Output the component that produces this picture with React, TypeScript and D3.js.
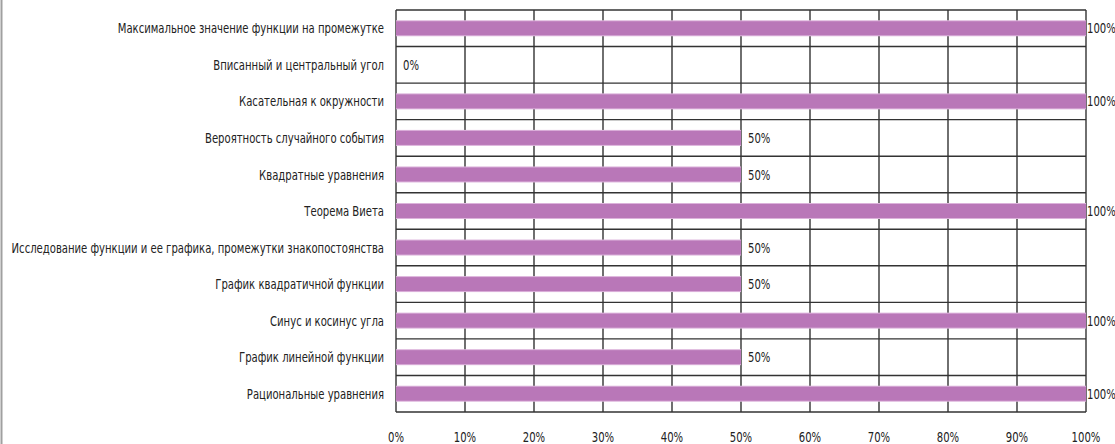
import { useEffect, useRef } from "react";
import * as d3 from "d3";

const categories = [
  "Максимальное значение функции на промежутке",
  "Вписанный и центральный угол",
  "Касательная к окружности",
  "Вероятность случайного события",
  "Квадратные уравнения",
  "Теорема Виета",
  "Исследование функции и ее графика, промежутки знакопостоянства",
  "График квадратичной функции",
  "Синус и косинус угла",
  "График линейной функции",
  "Рациональные уравнения",
];
const values = [1, 0, 1, 0.5, 0.5, 1, 0.5, 0.5, 1, 0.5, 1];
const ticks = [0, 0.1, 0.2, 0.3, 0.4, 0.5, 0.6, 0.7, 0.8, 0.9, 1];

const FONT = "'DejaVu Sans Condensed', 'DejaVu Sans', sans-serif";
const SX = 0.8; // сжатие шрифта по горизонтали

const App = () => {
  const ref = useRef<SVGSVGElement>(null);

  useEffect(() => {
    const width = 1115,
      height = 444;
    const margin = { top: 10, right: 29, bottom: 32, left: 396 };
    const svg = d3.select(ref.current);
    svg.selectAll("*").remove();

    // внешняя рамка слева
    svg
      .append("line")
      .attr("x1", 1.5)
      .attr("x2", 1.5)
      .attr("y1", 0)
      .attr("y2", height)
      .attr("stroke", "#a0a0a0")
      .attr("stroke-width", 2);

    const x = d3
      .scaleLinear()
      .domain([0, 1])
      .range([margin.left, width - margin.right]);
    const y = d3
      .scaleBand<string>()
      .domain(categories)
      .range([margin.top, height - margin.bottom])
      .padding(0);

    const barH = 14;

    const label = (
      g: d3.Selection<any, any, any, any>,
      tx: number,
      ty: number,
      txt: string,
      anchor: string
    ) => {
      g.append("g")
        .attr("transform", `translate(${tx},${ty}) scale(${SX},1)`)
        .append("text")
        .attr("dy", "0.36em")
        .attr("text-anchor", anchor)
        .attr("font-family", FONT)
        .attr("font-size", 14)
        .attr("fill", "#222")
        .text(txt);
    };

    // сетка: вертикальные линии
    svg
      .append("g")
      .selectAll("line")
      .data(ticks)
      .enter()
      .append("line")
      .attr("x1", (d) => x(d))
      .attr("x2", (d) => x(d))
      .attr("y1", margin.top)
      .attr("y2", height - margin.bottom)
      .attr("stroke", "#333")
      .attr("stroke-width", 1.4);

    // горизонтальные линии на границах категорий
    const bounds = categories.map((c) => y(c) ?? 0).concat([height - margin.bottom]);
    svg
      .append("g")
      .selectAll("line")
      .data(bounds)
      .enter()
      .append("line")
      .attr("x1", margin.left)
      .attr("x2", width - margin.right)
      .attr("y1", (d) => d)
      .attr("y2", (d) => d)
      .attr("stroke", "#333")
      .attr("stroke-width", 1.4);

    // столбцы
    const bars = svg.append("g");
    categories.forEach((c, i) => {
      const yc = (y(c) ?? 0) + y.bandwidth() / 2;
      bars
        .append("rect")
        .attr("x", x(0))
        .attr("y", yc - barH / 2 - 1)
        .attr("width", x(values[i]) - x(0))
        .attr("height", barH + 2)
        .attr("fill", "#dcb3db");
      bars
        .append("rect")
        .attr("x", x(0))
        .attr("y", yc - barH / 2)
        .attr("width", x(values[i]) - x(0))
        .attr("height", barH)
        .attr("fill", "#b977b8");
      // подпись значения
      label(
        bars,
        x(values[i]) + (values[i] === 1 ? 1 : 7),
        yc,
        `${Math.round(values[i] * 100)}%`,
        "start"
      );
      // подпись категории
      label(svg, margin.left - 12, yc, c, "end");
    });

    // подписи оси X
    const axis = svg.append("g");
    ticks.forEach((t) => label(axis, x(t), 437, d3.format(".0%")(t), "middle"));
  }, []);

  return (
    <svg
      ref={ref}
      width={1115}
      height={444}
      style={{ position: "absolute", left: 0, top: 0, background: "#fff" }}
    />
  );
};

export default App;
